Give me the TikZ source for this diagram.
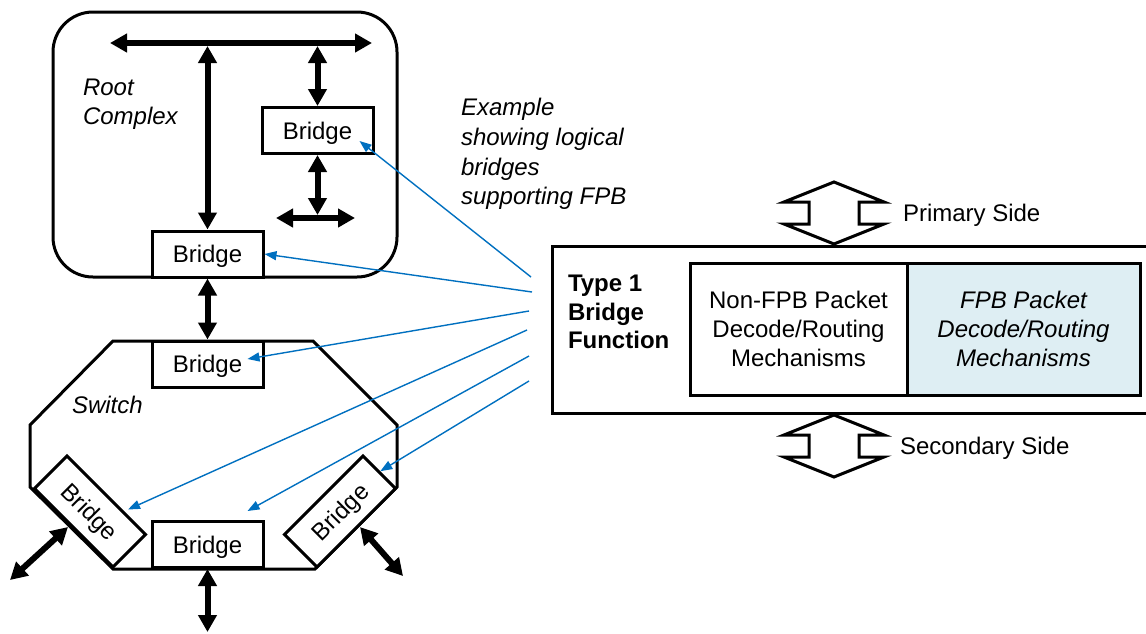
\documentclass[tikz,border=0pt]{standalone}
\usepackage{fontspec}
\setmainfont{Liberation Sans}
\usetikzlibrary{arrows.meta,calc}
\definecolor{fpbblue}{RGB}{0,112,192}
\definecolor{fpbfill}{RGB}{222,238,243}
\begin{document}
\begin{tikzpicture}[x=1pt,y=-1pt,
  font=\fontsize{24}{29}\selectfont,
  bridgebox/.style={draw, line width=3pt, fill=white, minimum width=111pt, minimum height=46pt, inner sep=0pt, text height=17.4pt, text depth=0pt},
  busarrow/.style={line width=6pt, {Triangle[length=17pt,width=18pt]}-{Triangle[length=17pt,width=18pt]}},
  ptr/.style={draw=fpbblue, line width=1.4pt, -{Triangle[length=12pt,width=9pt]}},
  frame/.style={draw, line width=3pt},
  blockarrow/.style={draw, line width=3pt, fill=white, line join=miter},
  plain/.style={inner sep=0pt, outer sep=0pt}]
\useasboundingbox (0,0) rectangle (1146,633);
\fill[white] (0,0) rectangle (1146,633);

% Root complex
\node[frame, rounded corners=40pt, minimum width=344pt, minimum height=265pt, fill=white] (rc) at (225,144.5) {};
\node[plain, anchor=west, align=left, font=\fontsize{24}{29}\selectfont\itshape] (rctext) at (83,104) {Root\\Complex};

% Switch
\draw[frame, line join=miter] (113,341) -- (313,341) -- (397,425) -- (397,487) -- (315,569) -- (113,569) -- (30,487) -- (30,425) -- cycle;
\node[plain, anchor=west, font=\fontsize{24}{29}\selectfont\itshape] (swtext) at (72,405) {Switch};

% Bridges
\node[bridgebox] (ub) at (317.5,130.5) {Bridge};
\node[bridgebox] (rb) at (207.5,254) {Bridge};
\node[bridgebox] (sb) at (207.5,364) {Bridge};
\node[bridgebox] (bb) at (207.5,544.5) {Bridge};
\node[bridgebox, rotate=-45] (ldb) at (90,511.5) {Bridge};
\node[bridgebox, rotate=45] (rdb) at (340,511.5) {Bridge};

% Buses and links
\coordinate (busL) at (110,43);
\coordinate (busR) at (372,43);
\coordinate (busA) at (207.5,46);
\coordinate (busB) at (317.5,46);
\coordinate (lbL) at (276,218);
\coordinate (lbR) at (355,218);
\coordinate (lbM) at (317.5,215);
\coordinate (botEnd) at (207.5,632);
\coordinate (ldEnd) at (10,580);
\coordinate (ldStart) at (68,527);
\coordinate (rdEnd) at (403,576);
\coordinate (rdStart) at (360,527);

\draw[busarrow] (busL) -- (busR);
\draw[busarrow] (rb.north) -- (busA);
\draw[busarrow] (ub.north) -- (busB);
\draw[busarrow] (lbL) -- (lbR);
\draw[busarrow] (ub.south) -- (lbM);
\draw[busarrow] (rb.south) -- (sb.north);
\draw[busarrow] (bb.south) -- (botEnd);
\draw[busarrow] (ldStart) -- (ldEnd);
\draw[busarrow] (rdStart) -- (rdEnd);

% Example text
\node[plain, anchor=west, align=left, font=\fontsize{24}{29.7}\selectfont\itshape] (ex) at (461,154) {Example\\showing logical\\bridges\\supporting FPB};

% Type 1 bridge function box
\draw[frame] (1148,246) -- (552,246) -- (552,413) -- (1148,413);
\node[plain, anchor=west, align=left, font=\fontsize{24}{28.5}\selectfont\bfseries] (t1) at (568,312) {Type 1\\Bridge\\Function};
\node[frame, minimum width=217pt, minimum height=132pt, inner sep=0pt, align=center] (nonfpb) at (798.5,329) {Non-FPB Packet\\Decode/Routing\\Mechanisms};
\node[frame, fill=fpbfill, minimum width=233pt, minimum height=132pt, inner sep=0pt, align=center, font=\fontsize{24}{29}\selectfont\itshape] (fpb) at (1023.5,329) {FPB Packet\\Decode/Routing\\Mechanisms};

% Primary / secondary block arrows
\draw[blockarrow] (834,182) -- (884,202) -- (859,202) -- (859,224) -- (884,224) -- (834,244) -- (784,224) -- (809,224) -- (809,202) -- (784,202) -- cycle;
\draw[blockarrow] (834,415) -- (884,435) -- (859,435) -- (859,457) -- (884,457) -- (834,477) -- (784,457) -- (809,457) -- (809,435) -- (784,435) -- cycle;
\node[plain, anchor=west] (prim) at (903,215) {Primary Side};
\node[plain, anchor=west] (sec) at (900,448) {Secondary Side};

% Pointer arrows
\coordinate (s1) at (531,277);
\coordinate (s2) at (532,292);
\coordinate (s3) at (529,311);
\coordinate (s4) at (527,330);
\coordinate (s5) at (529,356);
\coordinate (s6) at (529,381);
\draw[ptr] (s1) -- ($(ub.south east)+(-15,-14)$);
\draw[ptr] (s2) -- (rb.east);
\draw[ptr] (s3) -- ($(sb.east)+(-17,-5)$);
\draw[ptr] (s4) -- ($(ldb.center)+(38,-2)$);
\draw[ptr] (s5) -- ($(bb.north east)+(-17,-9)$);
\draw[ptr] (s6) -- (rdb.east);
\end{tikzpicture}
\end{document}
